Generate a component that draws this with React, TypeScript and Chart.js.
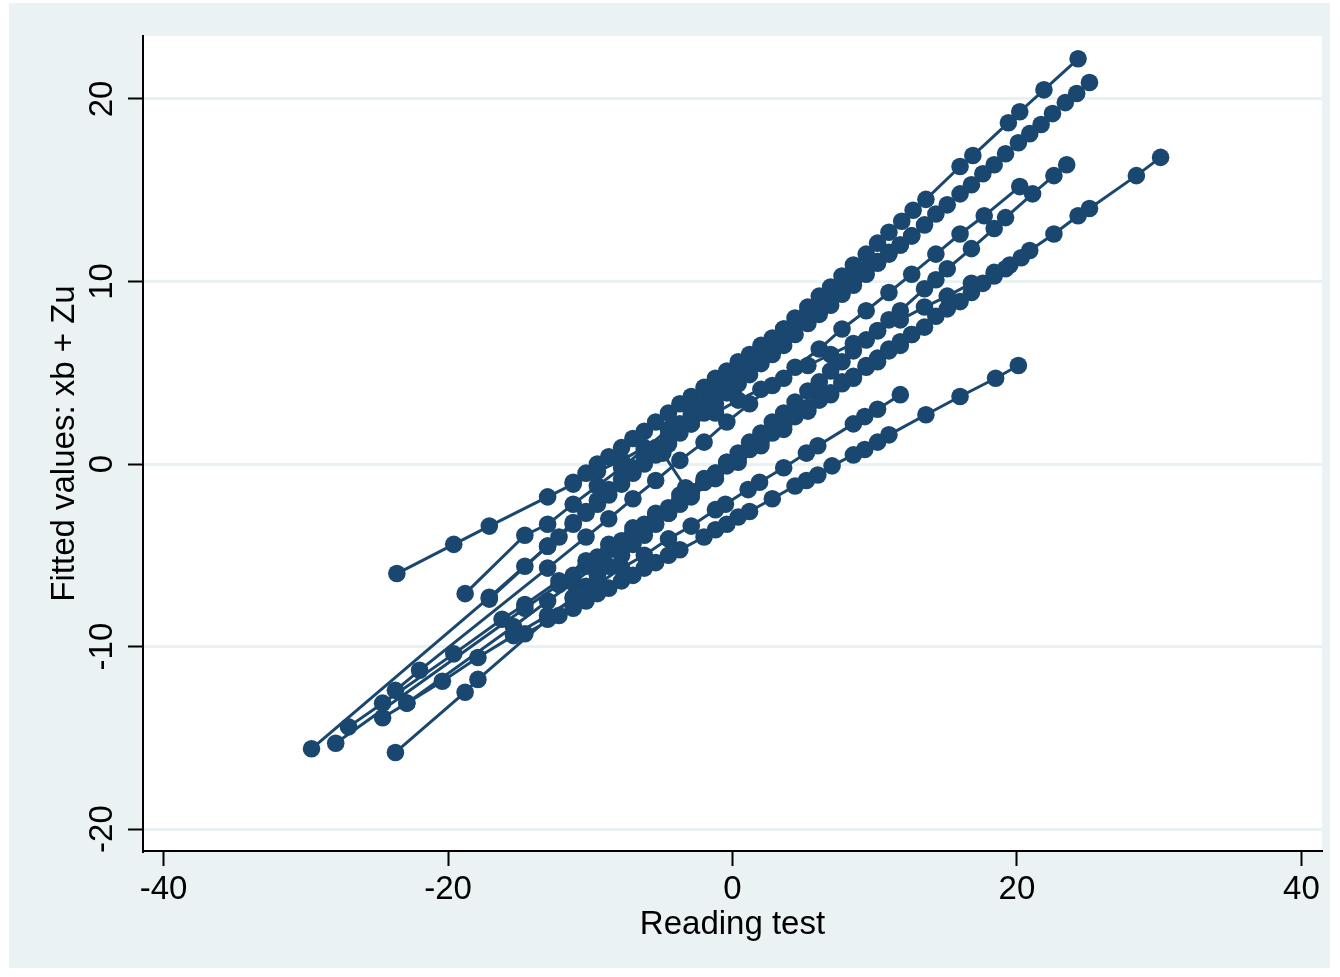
import React, { useEffect, useRef } from 'react';
import { Chart, registerables } from 'chart.js';

Chart.register(...registerables);

// Tick values
const xTicks = [-40, -20, 0, 20, 40];
const yTicks = [-20, -10, 0, 10, 20];

// Fitted lines per school (x = reading test, y = fitted values xb + Zu)
const s1X = [-29.6, -17.1, -14.6, -13.0, -12.2, -11.2, -10.3, -9.5, -8.7, -7.8, -7.0, -6.2, -5.4, -4.5, -3.7, -2.9, -2.0, -1.2, -0.4, 0.4, 1.2, 2.0, 2.8, 3.6, 4.4, 5.3, 6.1, 6.9, 7.7, 8.5, 9.4, 10.2, 11.0, 11.8, 12.6, 13.5, 14.3, 15.1, 16.0, 16.8, 17.6, 18.4, 19.2, 20.1, 20.9, 21.7, 22.5, 23.4, 24.2, 25.1];
const s1Y = [-15.6, -7.3, -5.6, -4.5, -4.0, -3.3, -2.7, -2.2, -1.7, -1.1, -0.5, 0.0, 0.5, 1.1, 1.7, 2.2, 2.8, 3.3, 3.9, 4.4, 4.9, 5.5, 6.0, 6.5, 7.1, 7.7, 8.2, 8.7, 9.3, 9.8, 10.4, 11.0, 11.5, 12.0, 12.5, 13.1, 13.7, 14.2, 14.8, 15.3, 15.9, 16.4, 17.0, 17.6, 18.1, 18.6, 19.2, 19.8, 20.3, 20.9];

const s2X = [-17.1, -13.0, -11.2, -10.3, -9.5, -8.7, -7.8, -7.0, -6.2, -5.4, -4.5, -3.7, -2.9, -2.0, -1.2, -0.4, 0.4, 1.2, 2.0, 2.8, 3.6, 4.4, 5.3, 6.1, 6.9, 7.7, 8.5, 9.4, 10.2, 11.0, 11.9, 12.7, 13.6, 16.0, 16.9, 19.4, 20.2, 21.9, 24.3];
const s2Y = [-7.4, -4.5, -3.2, -2.6, -2.0, -1.4, -0.8, -0.2, 0.4, 0.9, 1.6, 2.2, 2.7, 3.4, 3.9, 4.5, 5.1, 5.7, 6.2, 6.8, 7.4, 8.0, 8.6, 9.2, 9.7, 10.3, 10.9, 11.5, 12.1, 12.7, 13.3, 13.9, 14.5, 16.3, 16.9, 18.7, 19.3, 20.5, 22.2];

const s3X = [-23.6, -19.6, -17.1, -13.0, -11.2, -9.5, -7.8, -6.2, -4.5, -2.9, -1.2, 0.4, 2.0, 3.6, 5.3, 6.9, 8.5, 10.2, 11.8, 13.5, 15.1, 16.8, 18.4, 20.3];
const s3Y = [-6.0, -4.4, -3.4, -1.8, -1.1, -0.4, 0.2, 0.9, 1.5, 2.2, 2.8, 3.5, 4.1, 4.7, 5.4, 6.0, 6.6, 7.3, 7.9, 8.6, 9.2, 9.9, 10.5, 11.3];

const s4X = [-23.7, -18.8, -17.9, -13.0, -11.2, -10.3, -9.5, -8.7, -7.8, -7.0, -6.2, -5.4, -4.5, -3.7, -2.9, -2.0, -1.2, -0.4, 0.4, 1.2, 2.0, 2.8, 3.6, 4.4, 5.3, 6.1, 6.9, 7.7, 8.5, 9.4, 10.2, 11.0, 11.8, 13.5, 14.3, 15.1, 16.8, 18.4, 19.2, 21.1, 22.6, 23.5];
const s4Y = [-15.8, -12.5, -11.8, -8.5, -7.3, -6.7, -6.1, -5.6, -5.0, -4.4, -3.9, -3.3, -2.7, -2.2, -1.6, -1.0, -0.5, 0.1, 0.6, 1.2, 1.7, 2.3, 2.8, 3.4, 4.0, 4.5, 5.1, 5.6, 6.2, 6.8, 7.3, 7.9, 8.4, 9.6, 10.1, 10.7, 11.8, 12.9, 13.5, 14.8, 15.8, 16.4];

const s5X = [-27.9, -14.6, -12.2, -11.2, -10.3, -9.5, -8.7, -7.8, -7.0, -6.2, -5.4, -4.5, -3.7, -2.9, -2.0, -1.2, -0.4, 0.4, 1.2, 2.0, 2.8, 3.6, 4.4, 5.3, 6.1, 6.9, 7.7, 8.5, 9.4, 10.2, 11.0, 11.8, 12.6, 15.1, 17.6, 19.2, 20.9, 22.6, 24.3, 25.1, 28.4, 30.1];
const s5Y = [-15.3, -7.9, -6.6, -6.1, -5.6, -5.1, -4.7, -4.2, -3.7, -3.3, -2.9, -2.4, -1.9, -1.5, -1.0, -0.5, -0.1, 0.3, 0.8, 1.2, 1.7, 2.1, 2.6, 3.1, 3.5, 3.9, 4.4, 4.8, 5.3, 5.8, 6.2, 6.7, 7.1, 8.5, 9.9, 10.7, 11.7, 12.6, 13.6, 14.0, 15.8, 16.8];

const s6X = [-23.7, -22.0, -13.0, -10.3, -8.7, -7.0, -5.4, -3.7, -2.0, -0.4, 1.2, 2.8, 4.4, 6.1, 7.7, 9.4, 11.0, 12.6, 14.3, 16.0, 17.7, 20.2];
const s6Y = [-12.4, -11.3, -5.7, -4.0, -3.0, -1.9, -0.9, 0.2, 1.2, 2.3, 3.3, 4.3, 5.3, 6.3, 7.4, 8.4, 9.4, 10.4, 11.5, 12.6, 13.6, 15.2];

const s7X = [-14.6, -12.2, -11.2, -10.3, -9.5, -8.7, -7.8, -7.0, -6.2, -5.4, -4.5, -3.7, -2.0, -1.2, -0.4, 0.4, 1.2, 2.8, 4.4, 5.2, 6.0, 7.0, 8.5, 9.3, 10.2, 11.0, 13.6, 16.0, 18.5, 20.1];
const s7Y = [-9.3, -8.3, -7.9, -7.5, -7.1, -6.8, -6.4, -6.1, -5.7, -5.4, -5.0, -4.7, -4.0, -3.6, -3.3, -2.9, -2.6, -1.9, -1.2, -0.9, -0.6, -0.1, 0.5, 0.8, 1.2, 1.6, 2.7, 3.7, 4.7, 5.4];

const s8X = [-24.6, -22.9, -20.4, -17.9, -15.4, -13.0, -11.2, -9.5, -7.8, -6.2, -4.5, -2.9, -1.2, -0.5, 1.1, 1.9, 3.6, 5.2, 6.0, 8.5, 9.3, 10.2, 11.8];
const s8Y = [-13.9, -13.1, -11.9, -10.6, -9.4, -8.3, -7.4, -6.6, -5.7, -5.0, -4.1, -3.4, -2.5, -2.2, -1.4, -1.0, -0.2, 0.6, 1.0, 2.2, 2.6, 3.0, 3.8];

const s9X = [-27.0, -24.6, -19.6, -16.2, -14.6, -12.2, -10.3, -8.7, -7.0, -5.4, -3.7, -2.0, -0.4, 1.2, 2.8, 4.4, 6.1, 7.7, 9.4, 11.0, 12.6, 14.3, 16.8, 18.4, 19.5];
const s9Y = [-14.4, -13.1, -10.4, -8.5, -7.7, -6.4, -5.3, -4.4, -3.5, -2.7, -1.7, -0.8, 0.1, 0.9, 1.8, 2.7, 3.6, 4.5, 5.4, 6.3, 7.1, 8.1, 9.4, 10.3, 10.9];

const s10X = [-22.9, -15.4, -13.0, -11.2, -9.5, -7.8, -6.2, -4.5, -2.9, -1.2, 0.4, 2.0, 3.6, 5.3, 6.9, 8.5, 10.2, 11.8, 13.5, 16.0];
const s10Y = [-13.1, -8.9, -7.5, -6.5, -5.5, -4.6, -3.6, -2.7, -1.8, -0.8, 0.1, 1.0, 1.9, 2.9, 3.8, 4.7, 5.6, 6.5, 7.5, 8.9];

const s11X = [-11.2, -10.3, -9.5, -8.7, -7.8, -7.0, -6.2, -5.4, -4.5, -3.7, -2.9, -2.0, -1.2, -0.4, 0.4, 1.2, 2.0, 2.8, 3.6, 4.4, 5.3, 6.1, 6.9, 7.7, 8.5, 9.4, 10.2, 11.0, 11.8, 12.6];
const s11Y = [-1.0, -0.5, 0.0, 0.4, 0.9, 1.4, 1.8, 2.3, 2.8, 3.3, 3.7, 4.2, 4.7, 5.1, 5.6, 6.0, 6.5, 6.9, 7.4, 7.8, 8.4, 8.8, 9.3, 9.7, 10.2, 10.7, 11.1, 11.6, 12.0, 12.5];

const s12X = [-18.8, -14.6, -13.0, -11.2, -9.5, -7.8, -6.2, -4.5, -2.9, -1.2, 0.4, 2.0, 3.6, 5.3, 6.9, 8.5, 10.2];
const s12Y = [-7.1, -3.9, -3.3, -2.2, -1.2, -0.2, 0.8, 1.9, 2.9, 4.0, 5.0, 6.0, 7.0, 8.0, 9.0, 10.0, 11.1];

const s13X = [-4.9, -3.3];
const s13Y = [0.6, -1.3];

const schools: [number[], number[]][] = [
  [s1X, s1Y], [s2X, s2Y], [s3X, s3Y], [s4X, s4Y], [s5X, s5Y], [s6X, s6Y], [s7X, s7Y],
  [s8X, s8Y], [s9X, s9Y], [s10X, s10Y], [s11X, s11Y], [s12X, s12Y], [s13X, s13Y],
];

const NAVY = '#1A476F';
const FONT = '"Liberation Sans", Arial, Helvetica, sans-serif';

export default function App() {
  const ref = useRef<HTMLCanvasElement>(null);

  useEffect(() => {
    const canvas = ref.current;
    if (!canvas) return;

    const bgPlugin = {
      id: 'stataBg',
      beforeDraw(chart: any) {
        const c = chart.ctx;
        const ca = chart.chartArea;
        c.save();
        c.fillStyle = '#ffffff';
        c.fillRect(0, 0, chart.width, chart.height);
        c.fillStyle = '#EAF2F3';
        c.fillRect(9, 3, 1321, 965);
        c.fillStyle = '#ffffff';
        c.fillRect(ca.left, ca.top, ca.right - ca.left, ca.bottom - ca.top);
        c.restore();
      },
    };

    const chart = new Chart(canvas, {
      type: 'scatter',
      data: {
        datasets: schools.map(([xs, ys]) => ({
          data: xs.map((x, i) => ({ x, y: ys[i] })),
          showLine: true,
          borderColor: NAVY,
          backgroundColor: NAVY,
          borderWidth: 3,
          pointRadius: 8.8,
          pointHoverRadius: 8.8,
          pointBorderWidth: 0,
          pointBackgroundColor: NAVY,
        })),
      },
      options: {
        responsive: false,
        animation: false,
        events: [],
        layout: { padding: { left: 0, top: 36, right: 18, bottom: 0 } },
        plugins: {
          legend: { display: false },
          tooltip: { enabled: false },
        },
        scales: {
          x: {
            type: 'linear',
            position: 'bottom',
            min: -41.45,
            max: 41.45,
            afterBuildTicks: (axis: any) => {
              axis.ticks = xTicks.map((v) => ({ value: v }));
            },
            afterFit: (axis: any) => {
              axis.height = 126;
            },
            grid: {
              drawOnChartArea: false,
              color: 'rgba(0,0,0,0)',
              tickColor: '#000000',
              tickLength: 15,
              tickWidth: 2,
            },
            border: { display: true, color: '#000000', width: 2 },
            ticks: {
              autoSkip: false,
              maxRotation: 0,
              minRotation: 0,
              padding: 4,
              color: '#000000',
              font: { family: FONT, size: 33 },
            },
            title: {
              display: true,
              text: 'Reading test',
              color: '#000000',
              font: { family: FONT, size: 33 },
              padding: { top: 0, bottom: 32 },
            },
          },
          y: {
            type: 'linear',
            position: 'left',
            min: -21.2,
            max: 23.45,
            afterBuildTicks: (axis: any) => {
              axis.ticks = yTicks.map((v) => ({ value: v }));
            },
            afterFit: (axis: any) => {
              axis.width = 143;
            },
            grid: {
              drawOnChartArea: true,
              color: '#E9F1F3',
              lineWidth: 3,
              tickColor: '#000000',
              tickLength: 15,
              tickWidth: 2,
            },
            border: { display: true, color: '#000000', width: 2 },
            ticks: {
              autoSkip: false,
              minRotation: 90,
              maxRotation: 90,
              crossAlign: 'center',
              padding: 1,
              color: '#000000',
              font: { family: FONT, size: 33 },
            },
            title: {
              display: true,
              text: 'Fitted values: xb + Zu',
              color: '#000000',
              font: { family: FONT, size: 33 },
              padding: { top: 45, bottom: 0 },
            },
          },
        },
      },
      plugins: [bgPlugin],
    } as any);

    return () => chart.destroy();
  }, []);

  return (
    <canvas
      ref={ref}
      width={1340}
      height={977}
      style={{ position: 'fixed', left: 0, top: 0, width: 1340, height: 977, display: 'block' }}
    />
  );
}
